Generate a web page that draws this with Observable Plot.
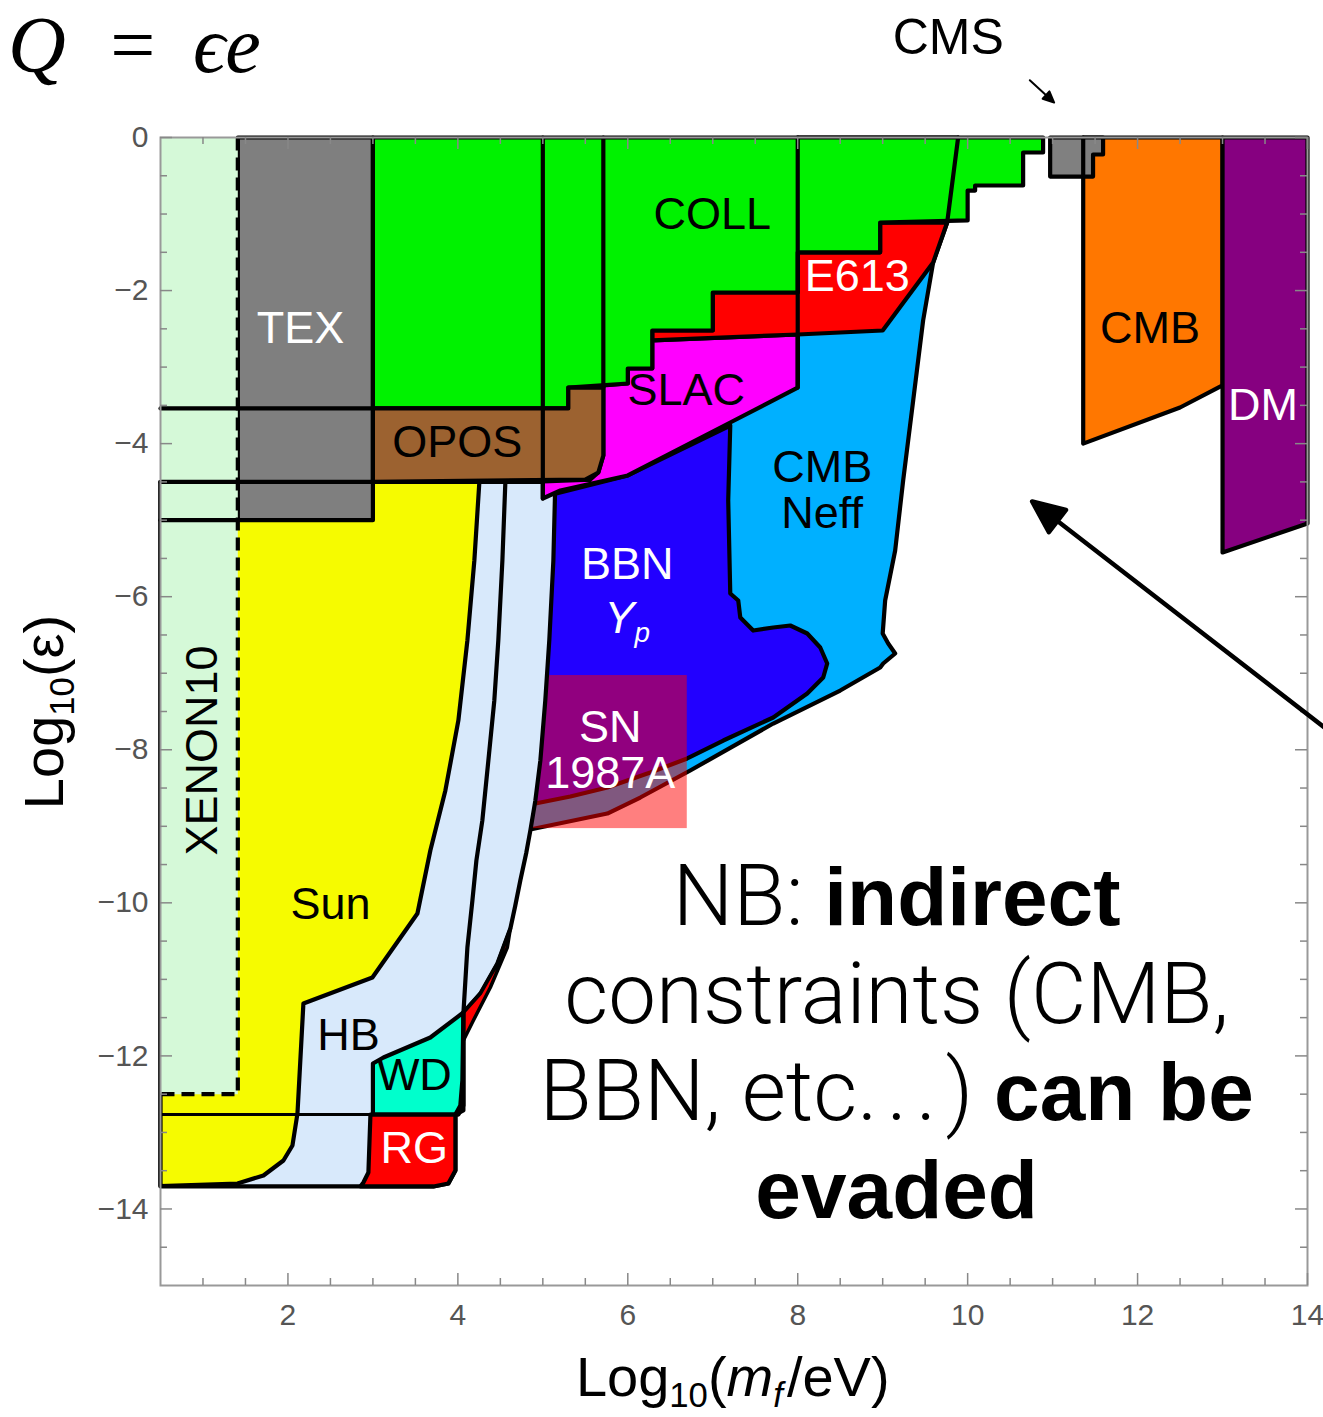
<!DOCTYPE html>
<html><head><meta charset="utf-8">
<script src="https://cdn.jsdelivr.net/npm/d3@7"></script>
<script src="https://cdn.jsdelivr.net/npm/@observablehq/plot@0.6"></script>
<style>body{margin:0;background:#fff}</style>
</head><body><div id="chart"></div>
<script>
// ---- region outlines: [log10(m/eV), log10(eps)] ----
const xenon10 = [[0.5,0],[1.41,0],[1.41,-12.5],[0.5,-12.5]];
const xenonEdge = [[1.41,0],[1.41,-12.5],[0.5,-12.5]];
const tex = [[1.41,0],[3.0,0],[3.0,-5.0],[1.41,-5.0]];
const coll = [[3.0,0],[10.888,0],[10.888,-0.196],[10.653,-0.196],[10.653,-0.627],[10.088,-0.627],[10.088,-0.693],[10.0,-0.693],[10.0,-1.084],[8.97,-1.111],[8.97,-1.5],[8.0,-1.5],[8.0,-2.025],[7.0,-2.025],[7.0,-2.522],[6.288,-2.522],[6.288,-3.018],[6.0,-3.018],[6.0,-3.214],[5.3,-3.267],[5.3,-3.54],[3.0,-3.54]];
const e613 = [[6.288,-2.522],[7.0,-2.522],[7.0,-2.025],[8.0,-2.025],[8.0,-1.5],[8.97,-1.5],[8.97,-1.111],[9.759,-1.111],[9.594,-1.633],[9.0,-2.522],[8.0,-2.574],[6.288,-2.652]];
const slac = [[5.0,-4.495],[5.559,-4.469],[5.653,-4.377],[5.712,-4.155],[5.712,-3.24],[6.0,-3.214],[6.0,-3.018],[6.288,-3.018],[6.288,-2.652],[8.0,-2.574],[8.0,-3.267],[7.206,-3.724],[6.0,-4.416],[5.206,-4.612],[5.0,-4.717]];
const opos = [[3.0,-3.54],[5.3,-3.54],[5.3,-3.267],[5.712,-3.267],[5.712,-4.155],[5.653,-4.377],[5.5,-4.469],[3.0,-4.5]];
const sun = [[0.5,-4.5],[4.253,-4.5],[4.194,-5.527],[4.112,-6.572],[4.006,-7.617],[3.853,-8.532],[3.676,-9.316],[3.524,-10.139],[2.994,-10.976],[2.182,-11.315],[2.112,-12.753],[2.053,-13.171],[1.947,-13.367],[1.712,-13.563],[1.406,-13.667],[0.5,-13.7]];
const hb = [[0.5,-4.5],[5.147,-4.5],[5.124,-5.527],[5.076,-6.572],[5.029,-7.356],[4.971,-8.14],[4.912,-8.663],[4.853,-9.055],[4.806,-9.342],[4.735,-9.708],[4.676,-10.035],[4.618,-10.335],[4.465,-10.793],[4.265,-11.185],[4.065,-11.433],[4.065,-12.713],[3.971,-12.766],[3.971,-13.497],[3.888,-13.667],[3.712,-13.706],[0.5,-13.706]];
const hbInner = [[4.559,-4.5],[4.524,-5.527],[4.476,-6.572],[4.429,-7.356],[4.359,-8.14],[4.288,-8.924],[4.218,-9.447],[4.171,-9.969],[4.112,-10.584],[4.065,-11.446],[4.053,-12.321],[4.029,-12.648],[3.971,-12.766]];
const rgSliver = [[4.618,-10.335],[4.465,-10.793],[4.265,-11.185],[4.065,-11.433],[4.065,-11.799],[4.182,-11.537],[4.382,-11.106],[4.582,-10.584]];
const wd = [[3.0,-12.766],[3.0,-12.099],[3.124,-12.021],[3.676,-11.76],[4.065,-11.433],[4.065,-12.648],[4.006,-12.766]];
const rg = [[2.971,-12.766],[3.971,-12.766],[3.971,-13.497],[3.888,-13.667],[3.712,-13.706],[2.853,-13.706],[2.888,-13.654],[2.947,-13.524]];
const bbn = [[4.971,-4.704],[6.0,-4.416],[7.206,-3.763],[7.182,-4.743],[7.206,-5.958],[7.3,-6.05],[7.324,-6.272],[7.476,-6.442],[7.712,-6.402],[7.912,-6.376],[8.112,-6.481],[8.265,-6.664],[8.347,-6.873],[8.3,-7.056],[8.112,-7.265],[7.712,-7.578],[7.124,-7.879],[6.7,-8.114],[6.265,-8.297],[5.759,-8.493],[5.324,-8.611],[4.794,-8.728]];
const cmbNeff = [[9.888,0],[9.759,-1.111],[9.594,-1.633],[9.476,-2.391],[9.359,-3.436],[9.241,-4.482],[9.147,-5.396],[9.029,-6.05],[9.0,-6.481],[9.065,-6.612],[9.147,-6.742],[9.006,-6.873],[8.971,-6.925],[8.5,-7.226],[7.712,-7.657],[6.735,-8.271],[6.147,-8.624],[5.759,-8.833],[4.794,-9.055],[4.853,-4.704],[8.0,-3.175],[8.0,0]];
const sn1987a = [{x1: 4.8, x2: 6.7, y1: -9.03, y2: -7.03}];
const cmb = [[11.36,0],[13.0,0],[13.0,-3.24],[12.5,-3.528],[11.36,-4.0]];
const dm = [[13.0,0],[14.0,0],[14.0,-5.044],[13.0,-5.422]];
const cms = [[10.971,0],[11.594,0],[11.594,-0.222],[11.476,-0.222],[11.476,-0.51],[10.971,-0.51]];

// extra boundary lines
const boundaryLines = [
  [[0.5,-3.54],[3.0,-3.54]],
  [[0.5,-4.5],[3.0,-4.5]],
  [[0.5,-5.0],[1.41,-5.0]],
  [[5.0,0],[5.0,-4.717]],
  [[5.712,0],[5.712,-3.267]],
  [[8.0,0],[8.0,-3.267]],
  [[9.888,0],[9.759,-1.111]],
  [[11.36,0],[11.36,-0.51]]
];
const rgTopLine = [[0.5,-12.766],[3.0,-12.766]];

// labels
const blackLabels = [
  {t: "COLL", x: 6.994, y: -1.006}, {t: "CMB", x: 12.147, y: -2.496},
  {t: "SLAC", x: 6.688, y: -3.306}, {t: "OPOS", x: 3.994, y: -3.985},
  {t: "CMB\nNeff", x: 8.288, y: -4.612}, {t: "Sun", x: 2.5, y: -10.022},
  {t: "HB", x: 2.712, y: -11.733}, {t: "WD", x: 3.488, y: -12.256}
];
const whiteLabels = [
  {t: "TEX", x: 2.147, y: -2.496}, {t: "E613", x: 8.7, y: -1.816},
  {t: "DM", x: 13.476, y: -3.502}, {t: "BBN", x: 5.994, y: -5.579},
  {t: "SN\n1987A", x: 5.794, y: -8.003}, {t: "RG", x: 3.488, y: -13.21}
];
const rotatedLabels = [{t: "XENON10", x: 0.994, y: -8.01}];
const cmsLabel = [{t: "CMS", x: 9.771, y: 1.294}];
const arrowBig = [{x: 10.759, y: -4.756}];
const arrowSmall = [{x: 11.018, y: 0.457}];

const xMajor = [2,4,6,8,10,12,14];
const yMajor = [0,-2,-4,-6,-8,-10,-12,-14];
const xMinor = d3.range(1, 14, 0.5).filter(v => v % 2 !== 0);
const yMinor = d3.range(-14.5, 0, 0.5).filter(v => v % 2 !== 0);

const nbLines = [
  {y: -10.296, parts: [{t: "NB: ", light: true}, {t: "indirect", bold: true}]},
  {y: -11.577, parts: [{t: "constraints (CMB,", light: true}]},
  {y: -12.844, parts: [{t: "BBN, etc", light: true}, {t: "...", light: true, spacing: 9}, {t: ") ", light: true}, {t: "can be", bold: true}]},
  {y: -14.125, parts: [{t: "evaded", bold: true}]}
];

const W = 1323, H = 1417, ML = 160, MR = 16, MT = 137, MB = 132;
const XD = [0.5, 14], YD = [-15, 0];
const pxX = (XD[1]-XD[0])/(W-ML-MR), pxY = (YD[1]-YD[0])/(H-MT-MB);
const SANS = "'Liberation Sans', Arial, Helvetica, sans-serif";
const LIGHT = "Roboto, 'Liberation Sans', sans-serif";
const SW = 4.2;

const P = (pts, o) => Plot.line([...pts, pts[0]], {x: d => d[0], y: d => d[1], stroke: "black", strokeWidth: SW, strokeLinejoin: "round", ...o});
const L = (pts, o) => Plot.line(pts, {x: d => d[0], y: d => d[1], stroke: "black", strokeWidth: SW, strokeLinejoin: "round", ...o});

const headShape = (h, w) => ({draw(ctx, l) { ctx.moveTo(0, 0); ctx.lineTo(0, -(l - h + 2)); ctx.moveTo(0, -l); ctx.lineTo(w, -(l - h)); ctx.lineTo(-w, -(l - h)); ctx.closePath(); }});

const tick = (vals, len, side) => {
  const o = {stroke: "#888", strokeWidth: 1.5};
  if (side === "b") return Plot.ruleX(vals, {x: d => d, y1: YD[0], y2: YD[0] + len*pxY, ...o});
  if (side === "t") return Plot.ruleX(vals, {x: d => d, y1: YD[1], y2: YD[1] - len*pxY, ...o});
  if (side === "l") return Plot.ruleY(vals, {y: d => d, x1: XD[0], x2: XD[0] + len*pxX, ...o});
  return Plot.ruleY(vals, {y: d => d, x1: XD[1], x2: XD[1] - len*pxX, ...o});
};

const plot = Plot.plot({
  width: W, height: H, marginLeft: ML, marginRight: MR, marginTop: MT, marginBottom: MB,
  x: {domain: XD, label: null}, y: {domain: YD, label: null},
  style: {fontFamily: SANS, background: "white", overflow: "hidden"},
  marks: [
    P(cmbNeff, {fill: "#00b0ff"}),
    P(bbn, {fill: "#2200ff"}),
    Plot.rect(sn1987a, {x1: "x1", x2: "x2", y1: "y1", y2: "y2", fill: "#ff0000", fillOpacity: 0.5}),
    P(hb, {fill: "#d8e9fb"}),
    P(rgSliver, {fill: "#ff0000", strokeWidth: 3.5}),
    P(sun, {fill: "#f6fb00"}),
    P(wd, {fill: "#00ffcc"}),
    P(rg, {fill: "#ff0000"}),
    P(tex, {fill: "#7f7f7f"}),
    P(xenon10, {fill: "#d5f9d8", stroke: "none"}),
    P(slac, {fill: "#ff00ff"}),
    P(e613, {fill: "#ff0000"}),
    P(coll, {fill: "#00f200"}),
    P(opos, {fill: "#9c6230"}),
    P(cmb, {fill: "#ff7700"}),
    P(dm, {fill: "#860080"}),
    P(cms, {fill: "#808080"}),
    ...boundaryLines.map(l => L(l)),
    L(rgTopLine, {strokeWidth: 3}),
    L(hbInner),
    L(xenonEdge, {strokeDasharray: "13,7", strokeLinejoin: "miter", strokeLinecap: "butt"}),
    Plot.frame({stroke: "#999", strokeWidth: 2}),
    tick(xMinor, 7, "b"), tick(xMajor, 12, "b"), tick(xMinor, 7, "t"), tick(xMajor, 12, "t"),
    tick(yMinor, 7, "l"), tick(yMajor, 12, "l"), tick(yMinor, 7, "r"), tick(yMajor, 12, "r"),
    Plot.axisX({ticks: xMajor, tickSize: 0, tickPadding: 18, fontSize: 30, color: "#555", label: null}),
    Plot.axisY({ticks: yMajor, tickSize: 0, tickPadding: 12, fontSize: 30, color: "#555", label: null,
      tickFormat: d => d === 0 ? "0" : "\u2212" + Math.abs(d)}),
    Plot.text(blackLabels, {x: "x", y: "y", text: "t", fill: "black", fontSize: 45, lineHeight: 1.03}),
    Plot.text(whiteLabels, {x: "x", y: "y", text: "t", fill: "white", fontSize: 45, lineHeight: 1.03}),
    Plot.text(rotatedLabels, {x: "x", y: "y", text: "t", fill: "black", fontSize: 45, rotate: -90}),
    Plot.text(cmsLabel, {x: "x", y: "y", text: "t", fill: "black", fontSize: 50}),
    Plot.vector(arrowBig, {x: "x", y: "y", length: 430, rotate: -52.3, anchor: "end", shape: headShape(32, 14), stroke: "black", fill: "black", strokeWidth: 4.5}),
    Plot.vector(arrowSmall, {x: "x", y: "y", length: 33, rotate: 132.5, anchor: "end", shape: headShape(11, 5), stroke: "black", fill: "black", strokeWidth: 2})
  ]
});
document.getElementById("chart").appendChild(plot);

// ---- rich text (subscripts, italics, mixed weights) via the plot's own scales ----
const svg = d3.select(plot);
const xs = plot.scale("x"), ys = plot.scale("y");
function rich(parts, xv, yv, o = {}) {
  const size = o.size || 45;
  const t = svg.append("text")
    .attr("text-anchor", o.anchor || "middle")
    .attr("font-family", o.family || SANS).attr("font-size", size).attr("fill", o.fill || "black")
    .style("white-space", "pre")
    .attr("transform", `translate(${xs.apply(xv)},${ys.apply(yv)}) rotate(${o.rotate || 0})`);
  let shift = 0;
  for (const p of parts) {
    const s = t.append("tspan").text(p.t);
    if (p.italic) s.attr("font-style", "italic");
    if (p.bold) s.attr("font-weight", 700).attr("font-family", SANS);
    if (p.light) s.attr("font-weight", 300).attr("font-family", LIGHT).attr("font-size", size * 1.04);
    if (p.spacing) s.attr("letter-spacing", p.spacing);
    if (p.dx) s.attr("dx", p.dx);
    if (p.sub) { const d = size * 0.2; s.attr("font-size", size * 0.62); if (!shift) { s.attr("dy", d); shift = d; } }
    else if (shift) { s.attr("dy", -shift); shift = 0; }
  }
}
const ypLabel = [{t: "Y", italic: true}, {t: "p", italic: true, sub: true}];
rich(ypLabel, 6.0, -6.481, {fill: "white"});
const xAxisLabel = [{t: "Log"}, {t: "10", sub: true}, {t: "("}, {t: "m", italic: true}, {t: "f", italic: true, sub: true}, {t: "/eV)", dx: 4}];
rich(xAxisLabel, 7.241, -16.45, {size: 56});
const yAxisLabel = [{t: "Log"}, {t: "10", sub: true}, {t: "(\u03b5)"}];
rich(yAxisLabel, -0.641, -7.513, {size: 56, rotate: -90});
for (const line of nbLines) rich(line.parts, 9.17, line.y, {size: 82});
const SERIF = "'Liberation Serif', 'DejaVu Serif', 'Times New Roman', serif";
rich([{t: "Q", italic: true}], -1.288, 0.849, {size: 80, anchor: "start", family: SERIF});
rich([{t: "="}], 0.18, 0.849, {size: 80, family: SERIF});
rich([{t: "\u03f5e", italic: true}], 0.888, 0.849, {size: 80, anchor: "start", family: SERIF});
</script>
</body></html>
